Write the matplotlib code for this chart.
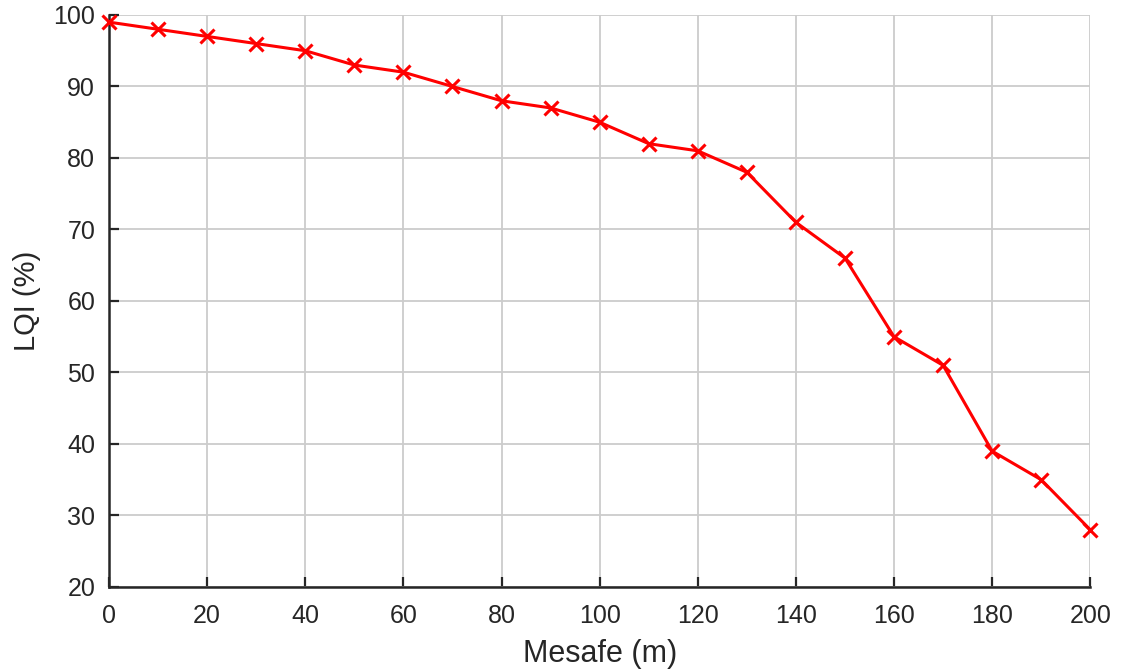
import matplotlib
matplotlib.use('Agg')
import matplotlib.pyplot as plt

# LQI vs distance data
mesafe = [0, 10, 20, 30, 40, 50, 60, 70, 80, 90, 100,
          110, 120, 130, 140, 150, 160, 170, 180, 190, 200]
lqi = [99, 98, 97, 96, 95, 93, 92, 90, 88, 87, 85,
       82, 81, 78, 71, 66, 55, 51, 39, 35, 28]
x_ticks = list(range(0, 201, 20))
y_ticks = list(range(20, 101, 10))

plt.rcParams['font.family'] = ['Liberation Sans', 'DejaVu Sans']

fig = plt.figure(figsize=(11.24, 6.69), dpi=100)
ax = fig.add_axes([0.097, 0.1226, 0.873, 0.855])

ax.plot(mesafe, lqi, color='#ff0000', linewidth=2.2, marker='x',
        markersize=10, markeredgewidth=2.2, zorder=3, clip_on=False)

ax.set_xlim(0, 200)
ax.set_ylim(20, 100)
ax.set_xticks(x_ticks)
ax.set_yticks(y_ticks)
ax.grid(True, color='#cccccc', linewidth=1.3)
ax.set_axisbelow(True)

for side in ['top', 'right']:
    ax.spines[side].set_visible(False)
for side in ['left', 'bottom']:
    ax.spines[side].set_linewidth(1.8)
    ax.spines[side].set_color('#262626')

ax.tick_params(direction='in', length=7, width=1.6, labelsize=18,
               colors='#262626')
ax.tick_params(axis='x', pad=12)
ax.tick_params(axis='y', pad=10)
ax.set_xlabel('Mesafe (m)', fontsize=22, color='#262626', labelpad=8)
ax.set_ylabel('LQI (%)', fontsize=21, color='#262626', labelpad=9)

fig.savefig('out.png', dpi=100)
